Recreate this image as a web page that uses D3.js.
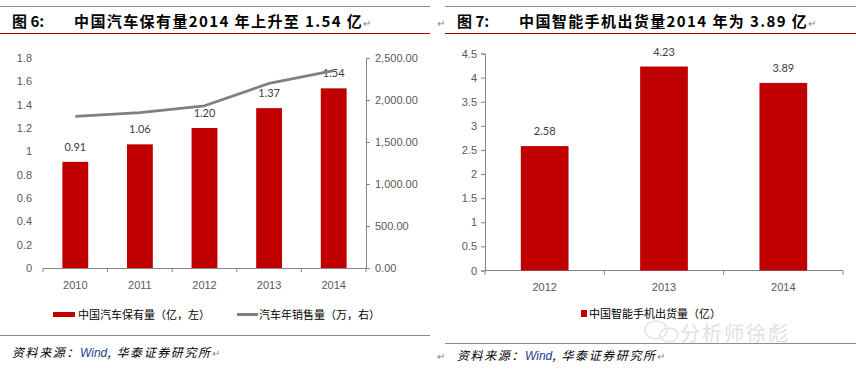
<!DOCTYPE html>
<html>
<head>
<meta charset="utf-8">
<script src="https://cdn.jsdelivr.net/npm/d3@7"></script>
<style>
  body { margin: 0; background: #fff; }
  svg { display: block; font-family: Lato, "Noto Sans CJK SC", sans-serif; }
  .tick text { fill: #595959; font-size: 11px; }
  .cjk { font-family: "Noto Sans CJK SC", sans-serif; }
</style>
</head>
<body>
<svg id="chart" width="856" height="369"></svg>
<script>
// DATA
const carYears = ['2010', '2011', '2012', '2013', '2014'];
const carStock = [0.91, 1.06, 1.20, 1.37, 1.54];       // 亿, left axis
const carSales = [1806, 1850, 1931, 2198, 2349];       // 万, right axis
const carLeftTicks = [0, 0.2, 0.4, 0.6, 0.8, 1, 1.2, 1.4, 1.6, 1.8];
const carRightTicks = [0, 500, 1000, 1500, 2000, 2500];

const phoneYears = ['2012', '2013', '2014'];
const phoneShip = [2.58, 4.23, 3.89];                  // 亿
const phoneTicks = [0, 0.5, 1, 1.5, 2, 2.5, 3, 3.5, 4, 4.5];

const _color = { bar: '#c00000', line: '#808080', axis: '#868686', text: '#404040', rule: '#a00000', grey: '#8c8c8c' };

let svg = d3.select('#chart');
svg.append('rect').attr('width', 856).attr('height', 369).attr('fill', '#fff');

// FRAME: title rules, titles, source notes
function onFrame(x0, x1, fig, title, srcY, bottomRule, retMark){
    svg.append('line').attr('x1', x0).attr('x2', x1).attr('y1', 6.5).attr('y2', 6.5)
        .attr('stroke', '#8c8c8c').attr('stroke-width', 1);
    svg.append('line').attr('x1', x0).attr('x2', x1).attr('y1', 33.5).attr('y2', 33.5)
        .attr('stroke', _color.rule).attr('stroke-width', 1.2);
    let t = svg.append('text').attr('class', 'cjk').attr('y', 27)
        .attr('font-size', 15).attr('font-weight', 'bold').attr('fill', '#000');
    t.append('tspan').attr('x', x0 + 12).text(fig);
    t.append('tspan').attr('x', x0 + 74).attr('letter-spacing', 1.4).text(title);
    t.append('tspan').attr('font-size', 10).attr('font-weight', 'normal').attr('fill', '#888').text('↵');

    svg.append('line').attr('x1', x0).attr('x2', x1).attr('y1', bottomRule + 0.5).attr('y2', bottomRule + 0.5)
        .attr('stroke', '#8c8c8c').attr('stroke-width', 1);
    let s = svg.append('text').attr('class', 'cjk').attr('x', x0 + 12).attr('y', srcY)
        .attr('font-size', 12).attr('font-style', 'italic').attr('fill', '#000').attr('letter-spacing', 1.6);
    s.append('tspan').text('资料来源：');
    s.append('tspan').attr('fill', '#1f3c9c').attr('font-family', 'Liberation Sans').attr('letter-spacing', 0).text('Wind');
    s.append('tspan').text(', 华泰证券研究所');
    s.append('tspan').attr('font-size', 10).attr('font-style', 'normal').attr('fill', '#888').text('↵');
    if (retMark) {
        svg.append('text').attr('x', x0 - 8).attr('y', srcY).attr('font-size', 10).attr('fill', '#888').text('↵');
        svg.append('text').attr('x', x0 - 8).attr('y', 27).attr('font-size', 10).attr('fill', '#888').text('↵');
    }
}
onFrame(0, 430, '图 6:', '中国汽车保有量2014 年上升至 1.54 亿', 357, 335, false);
onFrame(445, 856, '图 7:', '中国智能手机出货量2014 年为 3.89 亿', 360, 343, true);

// LEFT CHART: car stock bars + sales line
function onCarChart(){
    const x = d3.scaleBand().domain(carYears).range([43, 366]);
    const yL = d3.scaleLinear().domain([0, 1.8]).range([268, 58]);
    const yR = d3.scaleLinear().domain([0, 2500]).range([268, 58]);
    const g = svg.append('g');

    let axL = g.append('g').attr('transform', 'translate(43,0)')
        .call(d3.axisLeft(yL).tickValues(carLeftTicks).tickFormat(d3.format('~g')).tickSize(0).tickPadding(11));
    axL.select('.domain').remove();

    let axR = g.append('g').attr('transform', 'translate(366,0)')
        .call(d3.axisRight(yR).tickValues(carRightTicks).tickFormat(d3.format(',.2f')).tickSize(4).tickPadding(5));
    axR.selectAll('line, .domain').attr('stroke', _color.axis);

    let axX = g.append('g').attr('transform', 'translate(0,268)')
        .call(d3.axisBottom(x).tickSize(0).tickPadding(13));
    axX.select('.domain').attr('stroke', _color.axis).attr('d', 'M43,0.5H366');
    g.append('g').selectAll('line').data(d3.range(carYears.length + 1)).join('line')
        .attr('x1', i => 43 + i * x.step()).attr('x2', i => 43 + i * x.step())
        .attr('y1', 268).attr('y2', 272).attr('stroke', _color.axis);

    const bw = x.bandwidth() * 0.4;
    g.selectAll('rect.bar').data(carStock).join('rect').attr('class', 'bar')
        .attr('x', (d, i) => x(carYears[i]) + (x.bandwidth() - bw) / 2)
        .attr('y', d => yL(d)).attr('width', bw).attr('height', d => 268 - yL(d))
        .attr('fill', _color.bar);
    g.selectAll('text.lbl').data(carStock).join('text').attr('class', 'lbl')
        .attr('x', (d, i) => x(carYears[i]) + x.bandwidth() / 2)
        .attr('y', d => yL(d) - 11).attr('text-anchor', 'middle')
        .attr('font-size', 11).attr('fill', _color.text).text(d => d.toFixed(2));

    const line = d3.line().x((d, i) => x(carYears[i]) + x.bandwidth() / 2).y(d => yR(d));
    g.append('path').datum(carSales).attr('d', line).attr('fill', 'none')
        .attr('stroke', _color.line).attr('stroke-width', 2.8).attr('stroke-linejoin', 'round');

    // legend
    g.append('rect').attr('x', 53).attr('y', 312).attr('width', 22).attr('height', 5).attr('fill', _color.bar);
    g.append('text').attr('class', 'cjk').attr('x', 78).attr('y', 318.5).attr('font-size', 11)
        .attr('fill', '#000').text('中国汽车保有量（亿，左）');
    g.append('line').attr('x1', 237).attr('x2', 258).attr('y1', 314.5).attr('y2', 314.5)
        .attr('stroke', _color.line).attr('stroke-width', 3);
    g.append('text').attr('class', 'cjk').attr('x', 259).attr('y', 318.5).attr('font-size', 11)
        .attr('fill', '#000').text('汽车年销售量（万，右）');
}

// RIGHT CHART: smartphone shipments
function onPhoneChart(){
    const x = d3.scaleBand().domain(phoneYears).range([485, 843]);
    const y = d3.scaleLinear().domain([0, 4.5]).range([270.5, 53.5]);
    const g = svg.append('g');

    let axY = g.append('g').attr('transform', 'translate(485,0)')
        .call(d3.axisLeft(y).tickValues(phoneTicks).tickFormat(d3.format('~g')).tickSize(4).tickPadding(4));
    axY.selectAll('line, .domain').attr('stroke', _color.axis);

    let axX = g.append('g').attr('transform', 'translate(0,270.5)')
        .call(d3.axisBottom(x).tickSize(0).tickPadding(13));
    axX.select('.domain').attr('stroke', _color.axis).attr('d', 'M485,0H843');
    g.append('g').selectAll('line').data(d3.range(phoneYears.length + 1)).join('line')
        .attr('x1', i => 485 + i * x.step()).attr('x2', i => 485 + i * x.step())
        .attr('y1', 270.5).attr('y2', 275).attr('stroke', _color.axis);

    const bw = x.bandwidth() * 0.4;
    g.selectAll('rect.bar').data(phoneShip).join('rect').attr('class', 'bar')
        .attr('x', (d, i) => x(phoneYears[i]) + (x.bandwidth() - bw) / 2)
        .attr('y', d => y(d)).attr('width', bw).attr('height', d => 270.5 - y(d))
        .attr('fill', _color.bar);
    g.selectAll('text.lbl').data(phoneShip).join('text').attr('class', 'lbl')
        .attr('x', (d, i) => x(phoneYears[i]) + x.bandwidth() / 2)
        .attr('y', d => y(d) - 11).attr('text-anchor', 'middle')
        .attr('font-size', 11).attr('fill', _color.text).text(d => d.toFixed(2));

    // watermark
    let wm = g.append('g').attr('opacity', 0.55);
    wm.append('ellipse').attr('cx', 656).attr('cy', 330).attr('rx', 11).attr('ry', 9)
        .attr('fill', 'none').attr('stroke', '#cfcfcf').attr('stroke-width', 1.5);
    wm.append('ellipse').attr('cx', 669).attr('cy', 335).attr('rx', 9).attr('ry', 7)
        .attr('fill', 'none').attr('stroke', '#cfcfcf').attr('stroke-width', 1.5);
    wm.append('text').attr('class', 'cjk').attr('x', 680).attr('y', 341).attr('font-size', 20)
        .attr('fill', '#c8c8c8').attr('letter-spacing', 2).text('分析师徐彪');

    // legend
    g.append('rect').attr('x', 581).attr('y', 310).attr('width', 6).attr('height', 7).attr('fill', _color.bar);
    g.append('text').attr('class', 'cjk').attr('x', 589).attr('y', 318).attr('font-size', 11)
        .attr('fill', '#000').text('中国智能手机出货量（亿）');
}

onCarChart();
onPhoneChart();
</script>
</body>
</html>
